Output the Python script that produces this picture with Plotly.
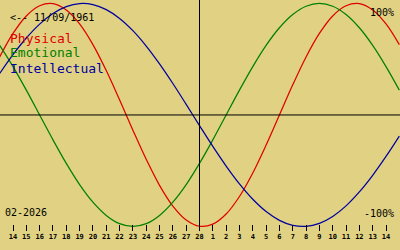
import plotly.graph_objects as go

# Day offsets relative to 28 Feb 2026 (13 Feb .. 15 Mar)
days = [-15, -14, -13, -12, -11, -10, -9, -8, -7, -6, -5, -4, -3, -2, -1, 0,
        1, 2, 3, 4, 5, 6, 7, 8, 9, 10, 11, 12, 13, 14, 15]

physical = [0.520, 0.731, 0.888, 0.979, 0.998, 0.942, 0.817, 0.631, 0.398, 0.136,
            -0.136, -0.398, -0.631, -0.817, -0.942, -0.998, -0.979, -0.888, -0.731,
            -0.520, -0.270, 0.000, 0.270, 0.520, 0.731, 0.888, 0.979, 0.998, 0.942,
            0.817, 0.631]
emotional = [0.624, 0.434, 0.223, 0.000, -0.223, -0.434, -0.624, -0.782, -0.901,
             -0.975, -1.000, -0.975, -0.901, -0.782, -0.624, -0.434, -0.223, 0.000,
             0.223, 0.434, 0.624, 0.782, 0.901, 0.975, 1.000, 0.975, 0.901, 0.782,
             0.624, 0.434, 0.223]
intellectual = [0.372, 0.541, 0.690, 0.815, 0.910, 0.972, 0.999, 0.990, 0.945, 0.866,
                0.756, 0.618, 0.458, 0.282, 0.095, -0.095, -0.282, -0.458, -0.618,
                -0.756, -0.866, -0.945, -0.990, -0.999, -0.972, -0.910, -0.815,
                -0.690, -0.541, -0.372, -0.189]

tick_days = [-14, -13, -12, -11, -10, -9, -8, -7, -6, -5, -4, -3, -2, -1, 0,
             1, 2, 3, 4, 5, 6, 7, 8, 9, 10, 11, 12, 13, 14]
tick_labels = ["14", "15", "16", "17", "18", "19", "20", "21", "22", "23", "24",
               "25", "26", "27", "28", "1", "2", "3", "4", "5", "6", "7", "8", "9",
               "10", "11", "12", "13", "14"]

BG = "#E0D282"
RED = "#E00000"
GREEN = "#008000"
BLUE = "#0000A0"
MONO = "DejaVu Sans Mono"

W, H = 400, 250

fig = go.Figure()
for name, vals, col in [("Physical", physical, RED),
                        ("Emotional", emotional, GREEN),
                        ("Intellectual", intellectual, BLUE)]:
    fig.add_trace(go.Scatter(x=days, y=vals, mode="lines", name=name,
                             line=dict(color=col, width=1.25, shape="spline"),
                             hoverinfo="skip"))

def py(p):
    return 1 - p / H

shapes = [
    dict(type="line", xref="paper", yref="y", x0=0, x1=1, y0=0, y1=0,
         line=dict(color="black", width=1)),
    dict(type="line", xref="x", yref="paper", x0=0, x1=0, y0=py(231), y1=1,
         line=dict(color="black", width=1)),
]

def ann(text, x, y, xanchor, size, color="black"):
    return dict(text=text, xref="paper", yref="paper", x=x / W, y=py(y),
                xanchor=xanchor, yanchor="middle", showarrow=False,
                font=dict(family=MONO, size=size, color=color))

annotations = [
    ann("&lt;-- 11/09/1961", 8, 17, "left", 10),
    ann("Physical", 8, 38, "left", 13, RED),
    ann("Emotional", 8, 53, "left", 13, GREEN),
    ann("Intellectual", 8, 68, "left", 13, BLUE),
    ann("100%", 396, 12.5, "right", 10),
    ann("-100%", 396, 213, "right", 10),
    ann("02-2026", 3, 212.5, "left", 10),
]

fig.update_layout(
    width=W, height=H,
    margin=dict(l=0, r=0, t=0, b=0),
    paper_bgcolor=BG, plot_bgcolor=BG,
    showlegend=False,
    xaxis=dict(range=[-14.976, 15.051], tickmode="array", tickvals=tick_days,
               ticktext=tick_labels, ticks="inside", ticklen=6, tickwidth=1,
               tickcolor="black", showgrid=False, zeroline=False, showline=False,
               anchor="free", position=(H - 231) / H,
               tickfont=dict(family=MONO, size=7, color="black", weight="bold"),
               fixedrange=True),
    yaxis=dict(range=[-1.211, 1.031], visible=False, fixedrange=True),
    shapes=shapes,
    annotations=annotations,
)

fig.write_html("out.html", config={"displayModeBar": False})
